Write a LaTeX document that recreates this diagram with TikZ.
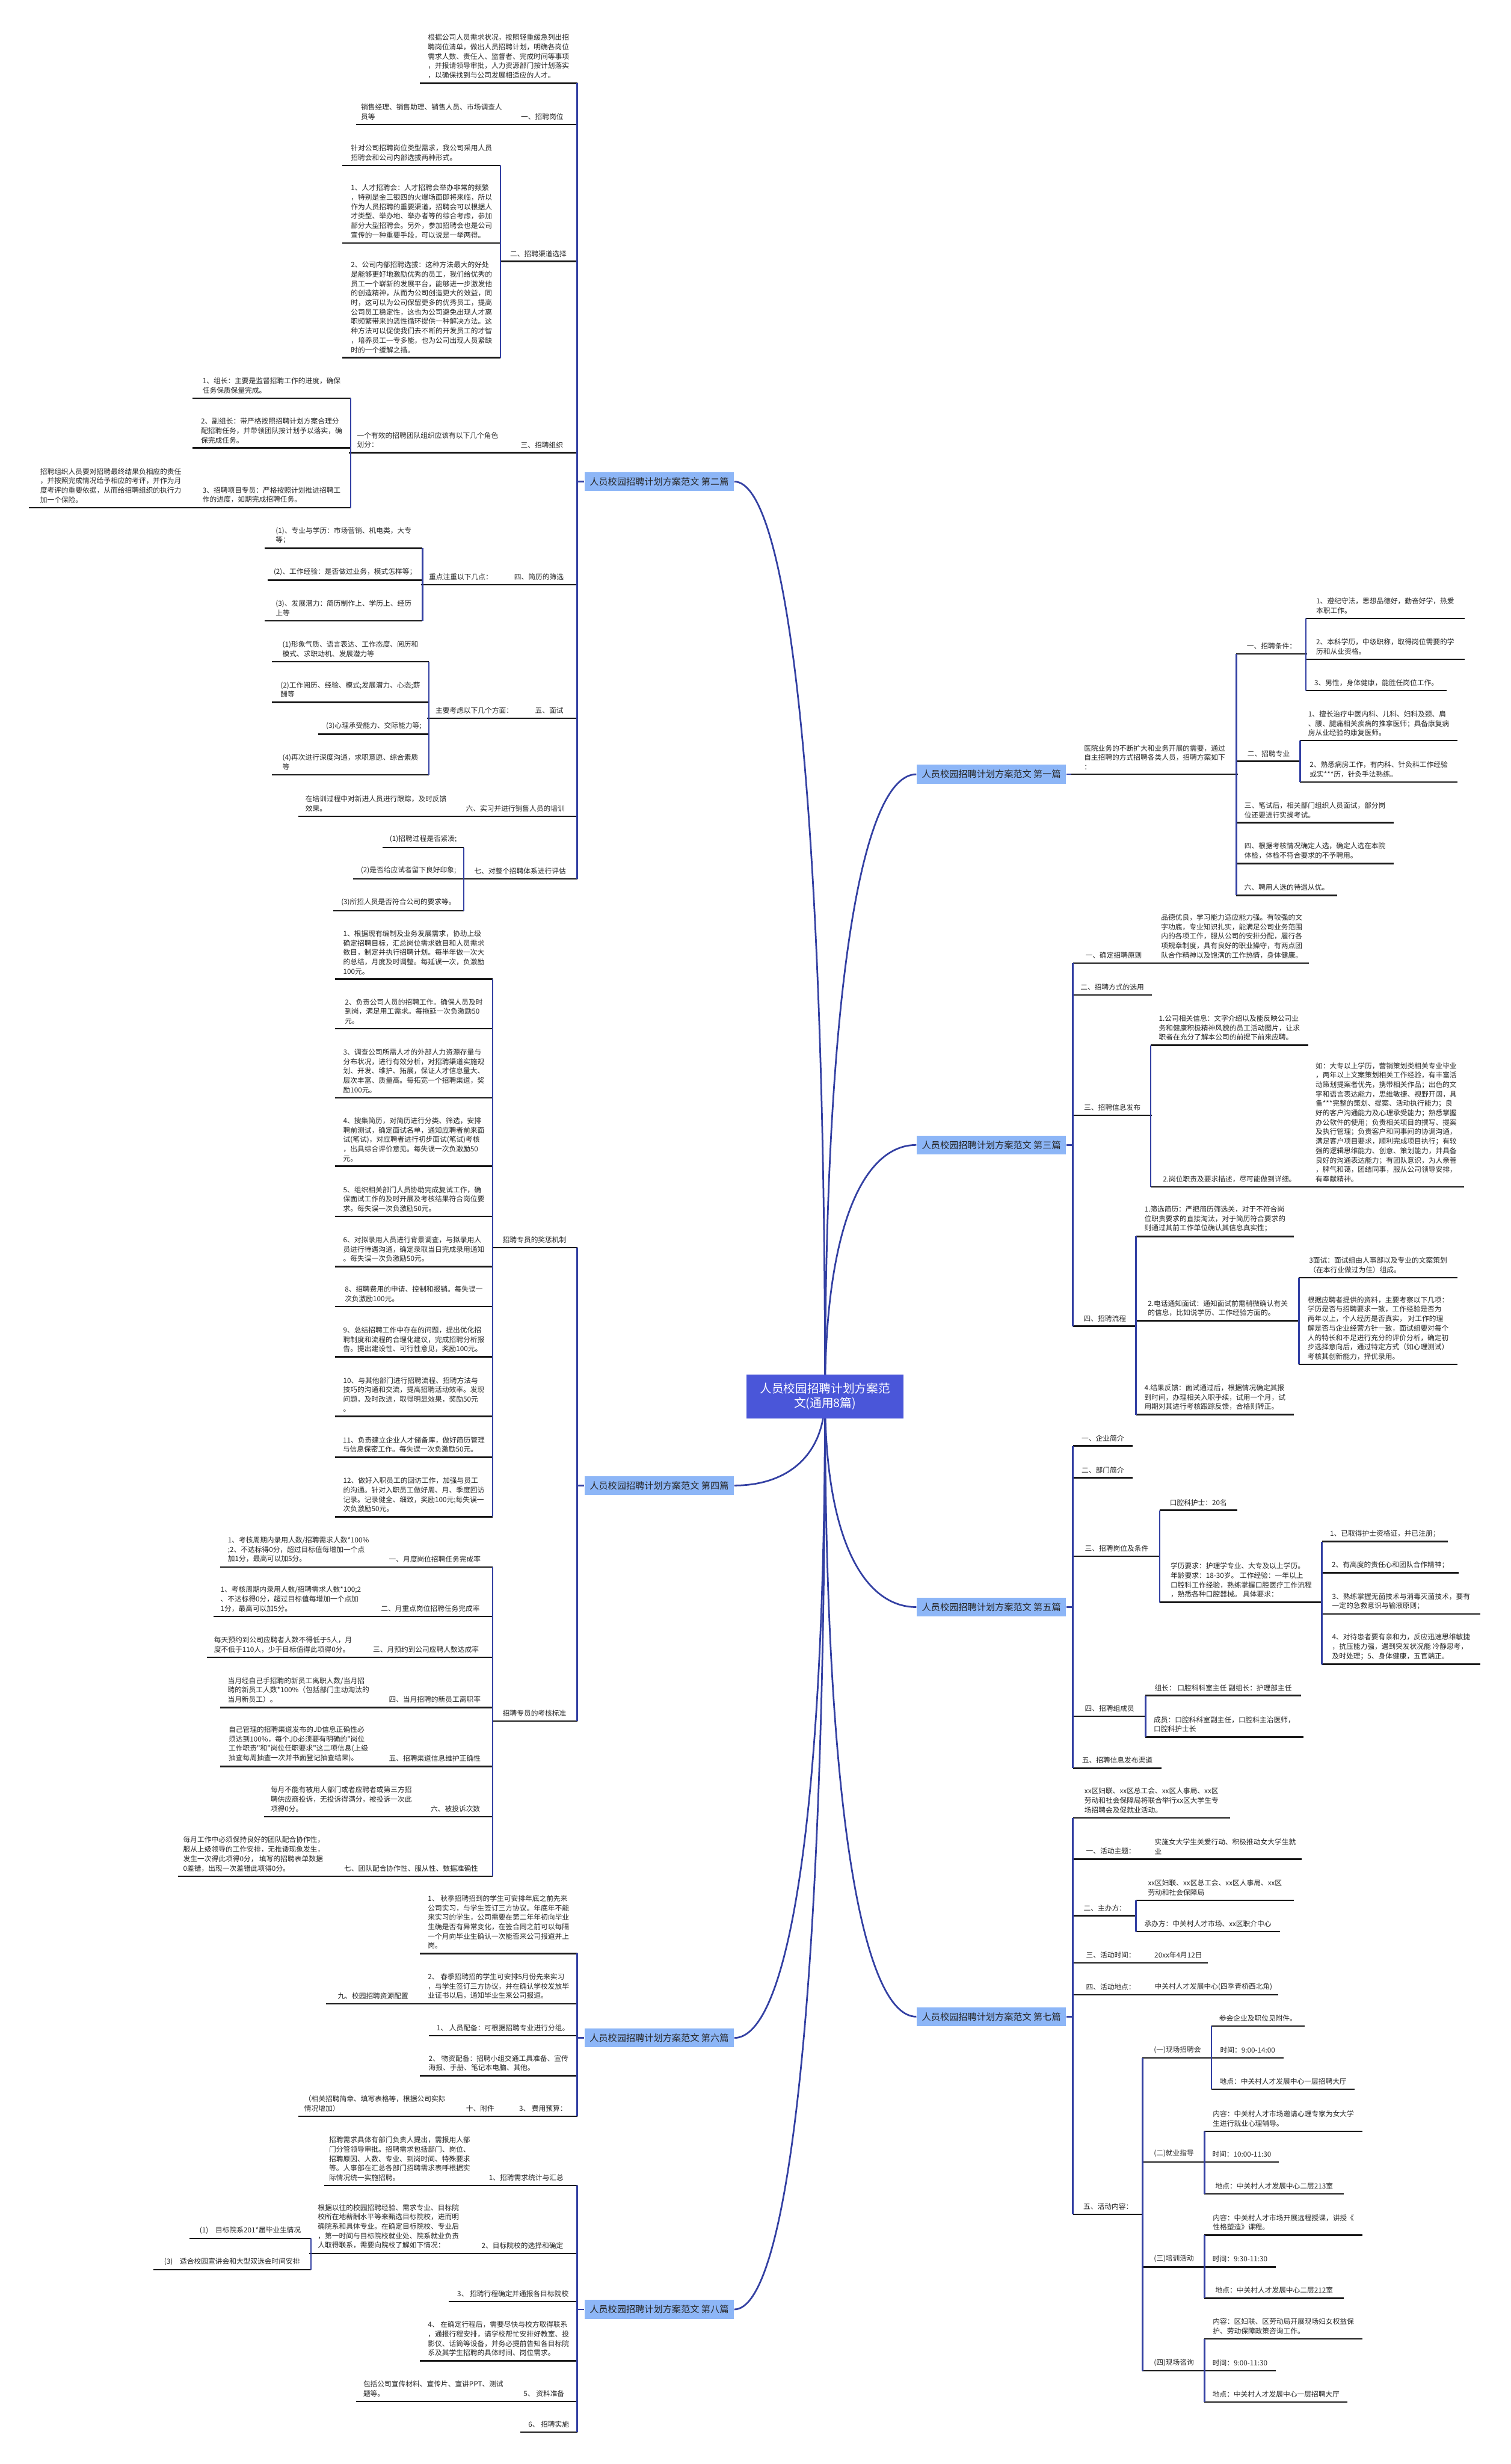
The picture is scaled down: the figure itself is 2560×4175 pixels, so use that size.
\documentclass[tikz,border=0pt]{standalone}
\usepackage{fontspec}
\newfontfamily\cjk{Noto Sans CJK SC}
\usetikzlibrary{backgrounds}
\definecolor{navy}{HTML}{3340A3}
\definecolor{brfill}{HTML}{8DB6F7}
\definecolor{rootfill}{HTML}{4A56D9}
\tikzset{
  uln/.style={draw=black!90,line width=0.7pt},
  bar/.style={draw=navy,line width=0.7pt},
  txt/.style={font=\cjk\fontsize{3.4pt}{4.55pt}\selectfont,align=left,text=black!85,inner xsep=0.06cm,inner ysep=0.07cm,
    append after command={(\tikzlastnode.south west) edge[uln] (\tikzlastnode.south east)}},
  lt/.style={txt,anchor=south east,minimum width=#1},
  rt/.style={txt,anchor=south west,minimum width=#1},
  br/.style={fill=brfill,font=\cjk\fontsize{4.4pt}{5pt}\selectfont,text=black!85,minimum width=2.53cm,minimum height=0.32cm,inner sep=0pt},
  rootbox/.style={fill=rootfill,font=\cjk\fontsize{5.7pt}{7pt}\selectfont,text=white,align=center,minimum width=2.65cm,minimum height=0.74cm,inner sep=0pt}
}
\begin{document}
\begin{tikzpicture}[x=0.01cm,y=-0.01cm]
  \useasboundingbox (0,0) rectangle (2560,4175);
  \node[rootbox](root) at (1398,2366){人员校园招聘计划方案范\\文(通用8篇)};
  \node[br](b2) at (1117,816){人员校园招聘计划方案范文 第二篇};
  \node[br](b4) at (1117,2517){人员校园招聘计划方案范文 第四篇};
  \node[br](b6) at (1117,3453){人员校园招聘计划方案范文 第六篇};
  \node[br](b8) at (1117,3913){人员校园招聘计划方案范文 第八篇};
  \node[br](b1) at (1680,1312){人员校园招聘计划方案范文 第一篇};
  \node[br](b3) at (1680,1940){人员校园招聘计划方案范文 第三篇};
  \node[br](b5) at (1680,2723){人员校园招聘计划方案范文 第五篇};
  \node[br](b7) at (1680,3417){人员校园招聘计划方案范文 第七篇};
  % 第二篇
  \node[lt=2.65cm](p1) at (978,141){根据公司人员需求状况，按照轻重缓急列出招\\聘岗位清单，做出人员招聘计划，明确各岗位\\需求人数、责任人、监督者、完成时间等事项\\，并报请领导审批，人力资源部门按计划落实\\，以确保找到与公司发展相适应的人才。};
  \node[lt=1.17cm](p2) at (978,211){一、招聘岗位};
  \node[lt=2.55cm](p2a) at (p2.south west){销售经理、销售助理、销售人员、市场调查人\\员等};
  \node[lt=1.3cm](p3) at (978,443){二、招聘渠道选择};
  \node[lt=2.66cm](p3a) at (848,280){针对公司招聘岗位类型需求，我公司采用人员\\招聘会和公司内部选拔两种形式。};
  \node[lt=2.66cm](p3b) at (848,412){1、人才招聘会：人才招聘会举办非常的频繁\\，特别是金三银四的火爆场面即将来临，所以\\作为人员招聘的重要渠道，招聘会可以根据人\\才类型、举办地、举办者等的综合考虑，参加\\部分大型招聘会。另外，参加招聘会也是公司\\宣传的一种重要手段，可以说是一举两得。};
  \node[lt=2.66cm](p3c) at (848,606){2、公司内部招聘选拔：这种方法最大的好处\\是能够更好地激励优秀的员工，我们给优秀的\\员工一个崭新的发展平台，能够进一步激发他\\的创造精神，从而为公司创造更大的效益，同\\时，这可以为公司保留更多的优秀员工，提高\\公司员工稳定性，这也为公司避免出现人才离\\职频繁带来的恶性循环提供一种解决方法。这\\种方法可以促使我们去不断的开发员工的才智\\，培养员工一专多能，也为公司出现人员紧缺\\时的一个缓解之措。};
  \node[lt=1.18cm](p4) at (978,767){三、招聘组织};
  \node[lt=2.66cm](p4a) at (p4.south west){一个有效的招聘团队组织应该有以下几个角色\\划分：};
  \node[lt=2.66cm](p4a1) at (594,675){1、组长：主要是监督招聘工作的进度，确保\\任务保质保量完成。};
  \node[lt=2.66cm](p4a2) at (594,759){2、副组长：带严格按照招聘计划方案合理分\\配招聘任务，并带领团队按计划予以落实，确\\保完成任务。};
  \node[lt=2.66cm](p4a3) at (594,860){3、招聘项目专员：严格按照计划推进招聘工\\作的进度，如期完成招聘任务。};
  \node[lt=2.76cm](p4a3a) at (p4a3.south west){招聘组织人员要对招聘最终结果负相应的责任\\，并按照完成情况给予相应的考评，并作为月\\度考评的重要依据，从而给招聘组织的执行力\\加一个保险。};
  \node[lt=1.28cm](p5) at (978,991){四、简历的筛选};
  \node[lt=1.34cm](p5a) at (p5.south west){重点注重以下几点：};
  \node[lt=2.66cm](p5a1) at (716,929){(1)、专业与学历：市场营销、机电类，大专\\等；};
  \node[lt=2.61cm](p5a2) at (716,983){(2)、工作经验：是否做过业务，模式怎样等；};
  \node[lt=2.66cm](p5a3) at (716,1052){(3)、发展潜力：简历制作上、学历上、经历\\上等};
  \node[lt=0.93cm](p6) at (978,1217){五、面试};
  \node[lt=1.58cm](p6a) at (p6.south west){主要考虑以下几个方面：};
  \node[lt=2.65cm](p6a1) at (727,1121){(1)形象气质、语言表达、工作态度、阅历和\\模式、求职动机、发展潜力等};
  \node[lt=2.65cm](p6a2) at (727,1190){(2)工作阅历、经验、模式;发展潜力、心态;薪\\酬等};
  \node[lt=1.86cm](p6a3) at (727,1244){(3)心理承受能力、交际能力等;};
  \node[lt=2.65cm](p6a4) at (727,1313){(4)再次进行深度沟通，求职意愿、综合素质\\等};
  \node[lt=2.08cm](p7) at (978,1383){六、实习并进行销售人员的培训};
  \node[lt=2.61cm](p7a) at (p7.south west){在培训过程中对新进人员进行跟踪，及时反馈\\效果。};
  \node[lt=1.92cm](p8) at (978,1489){七、对整个招聘体系进行评估};
  \node[lt=1.36cm](p8a) at (786,1436){(1)招聘过程是否紧凑;};
  \node[lt=1.86cm](p8b) at (786,1489){(2)是否给应试者留下良好印象;};
  \node[lt=2.2cm](p8c) at (786,1543){(3)所招人员是否符合公司的要求等。};
  % 第四篇
  \node[lt=1.43cm](q1) at (978,2114){招聘专员的奖惩机制};
  \node[lt=2.66cm](q1a) at (835,1659){1、根据现有编制及业务发展需求，协助上级\\确定招聘目标，汇总岗位需求数目和人员需求\\数目，制定并执行招聘计划。每半年做一次大\\的总结，月度及时调整。每延误一次，负激励\\100元。};
  \node[lt=2.66cm](q1b) at (835,1743){2、负责公司人员的招聘工作。确保人员及时\\到岗，满足用工需求。每拖延一次负激励50\\元。};
  \node[lt=2.66cm](q1c) at (835,1860){3、调查公司所需人才的外部人力资源存量与\\分布状况，进行有效分析，对招聘渠道实施规\\划、开发、维护、拓展，保证人才信息量大、\\层次丰富、质量高。每拓宽一个招聘渠道，奖\\励100元。};
  \node[lt=2.66cm](q1d) at (835,1976){4、搜集简历，对简历进行分类、筛选，安排\\聘前测试，确定面试名单，通知应聘者前来面\\试(笔试)，对应聘者进行初步面试(笔试)考核\\，出具综合评价意见。每失误一次负激励50\\元。};
  \node[lt=2.66cm](q1e) at (835,2061){5、组织相关部门人员协助完成复试工作，确\\保面试工作的及时开展及考核结果符合岗位要\\求。每失误一次负激励50元。};
  \node[lt=2.66cm](q1f) at (835,2146){6、对拟录用人员进行背景调查，与拟录用人\\员进行待遇沟通，确定录取当日完成录用通知\\。每失误一次负激励50元。};
  \node[lt=2.66cm](q1g) at (835,2214){8、招聘费用的申请、控制和报销。每失误一\\次负激励100元。};
  \node[lt=2.66cm](q1h) at (835,2299){9、总结招聘工作中存在的问题，提出优化招\\聘制度和流程的合理化建议，完成招聘分析报\\告。提出建设性、可行性意见，奖励100元。};
  \node[lt=2.66cm](q1i) at (835,2400){10、与其他部门进行招聘流程、招聘方法与\\技巧的沟通和交流，提高招聘活动效率。发现\\问题，及时改进，取得明显效果，奖励50元\\。};
  \node[lt=2.66cm](q1j) at (835,2469){11、负责建立企业人才储备库，做好简历管理\\与信息保密工作。每失误一次负激励50元。};
  \node[lt=2.66cm](q1k) at (835,2570){12、做好入职员工的回访工作，加强与员工\\的沟通。针对入职员工做好周、月、季度回访\\记录。记录健全、细致，奖励100元;每失误一\\次负激励50元。};
  \node[lt=1.43cm](q2) at (978,2916){招聘专员的考核标准};
  \node[lt=1.95cm](q2a) at (835,2655){一、月度岗位招聘任务完成率};
  \node[lt=2.64cm](q2a1) at (q2a.south west){1、考核周期内录用人数/招聘需求人数*100\%\\;2、不达标得0分，超过目标值每增加一个点\\加1分，最高可以加5分。};
  \node[lt=2.1cm](q2b) at (835,2739){二、月重点岗位招聘任务完成率};
  \node[lt=2.6cm](q2b1) at (q2b.south west){1、考核周期内录用人数/招聘需求人数*100;2\\、不达标得0分，超过目标值每增加一个点加\\1分，最高可以加5分。};
  \node[lt=2.25cm](q2c) at (835,2808){三、月预约到公司应聘人数达成率};
  \node[lt=2.56cm](q2c1) at (q2c.south west){每天预约到公司应聘者人数不得低于5人，月\\度不低于110人，少于目标值得此项得0分。};
  \node[lt=1.95cm](q2d) at (835,2893){四、当月招聘的新员工离职率};
  \node[lt=2.64cm](q2d1) at (q2d.south west){当月经自己手招聘的新员工离职人数/当月招\\聘的新员工人数*100\%（包括部门主动淘汰的\\当月新员工）。};
  \node[lt=1.95cm](q2e) at (835,2993){五、招聘渠道信息维护正确性};
  \node[lt=2.64cm](q2e1) at (q2e.south west){自己管理的招聘渠道发布的JD信息正确性必\\须达到100\%，每个JD必须要有明确的"岗位\\工作职责"和"岗位任职要求"这二项信息(上级\\抽查每周抽查一次并书面登记抽查结果)。};
  \node[lt=1.25cm](q2f) at (835,3078){六、被投诉次数};
  \node[lt=2.59cm](q2f1) at (q2f.south west){每月不能有被用人部门或者应聘者或第三方招\\聘供应商投诉，无投诉得满分，被投诉一次此\\项得0分。};
  \node[lt=2.75cm](q2g) at (835,3179){七、团队配合协作性、服从性、数据准确性};
  \node[lt=2.55cm](q2g1) at (q2g.south west){每月工作中必须保持良好的团队配合协作性，\\服从上级领导的工作安排，无推诿现象发生，\\发生一次得此项得0分， 填写的招聘表单数据\\0差错，出现一次差错此项得0分。};
  % 第六篇
  \node[lt=2.65cm](s1) at (978,3310){1、 秋季招聘招到的学生可安排年底之前先来\\公司实习，与学生签订三方协议。年底年不能\\来实习的学生，公司需要在第二年年初向毕业\\生确是否有异常变化，在签合同之前可以每隔\\一个月向毕业生确认一次能否来公司报道并上\\岗。};
  \node[lt=2.65cm](s2) at (978,3395){2、 春季招聘招的学生可安排5月份先来实习\\，与学生签订三方协议，并在确认学校发放毕\\业证书以后，通知毕业生来公司报道。};
  \node[lt=1.57cm](s2a) at (s2.south west){九、校园招聘资源配置};
  \node[lt=2.5cm](s3) at (978,3449){1、 人员配备：可根据招聘专业进行分组。};
  \node[lt=2.65cm](s4) at (978,3517){2、 物资配备：招聘小组交通工具准备、宣传\\海报、手册、笔记本电脑、其他。};
  \node[lt=1.14cm](s5) at (978,3586){3、 费用预算：};
  \node[lt=0.96cm](s5a) at (s5.south west){十、附件};
  \node[lt=2.58cm](s5b) at (s5a.south west){（相关招聘简章、填写表格等，根据公司实际\\情况增加）};
  % 第八篇
  \node[lt=1.71cm](e1) at (978,3703){1、招聘需求统计与汇总};
  \node[lt=2.55cm](e1a) at (e1.south west){招聘需求具体有部门负责人提出，需报用人部\\门分管领导审批。招聘需求包括部门、岗位、\\招聘原因、人数、专业、到岗时间、特殊要求\\等。人事部在汇总各部门招聘需求表呼根据实\\际情况统一实施招聘。};
  \node[lt=1.84cm](e2) at (978,3818){2、目标院校的选择和确定};
  \node[lt=2.67cm](e2a) at (e2.south west){根据以往的校园招聘经验、需求专业、目标院\\校所在地薪酬水平等来甄选目标院校，进而明\\确院系和具体专业。在确定目标院校、专业后\\，第一时间与目标院校就业处、院系就业负责\\人取得联系，需要向院校了解如下情况：};
  \node[lt=2.04cm](e2a1) at (527,3793){(1)　目标院系201*届毕业生情况};
  \node[lt=2.66cm](e2a2) at (527,3846){(3)　适合校园宣讲会和大型双选会时间安排};
  \node[lt=2.16cm](e3) at (978,3900){3、 招聘行程确定并通报各目标院校};
  \node[lt=2.65cm](e4) at (978,4000){4、 在确定行程后，需要尽快与校方取得联系\\，通报行程安排，请学校帮忙安排好教室、投\\影仪、话筒等设备，并务必提前告知各目标院\\系及其学生招聘的具体时间、岗位需求。};
  \node[lt=1.11cm](e5) at (978,4069){5、 资料准备};
  \node[lt=2.61cm](e5a) at (e5.south west){包括公司宣传材料、宣传片、宣讲PPT、测试\\题等。};
  \node[lt=0.95cm](e6) at (978,4121){6、 招聘实施};
  % 第一篇
  \node[rt=2.81cm](r0) at ([xshift=0.08cm]b1.east){医院业务的不断扩大和业务开展的需要，通过\\自主招聘的方式招聘各类人员，招聘方案如下\\：};
  \node[rt=1.18cm](r1) at (2095,1108){一、招聘条件：};
  \node[rt=2.67cm](r1a) at (2213,1048){1、遵纪守法，思想品德好，勤奋好学，热爱\\本职工作。};
  \node[rt=2.67cm](r1b) at (2213,1117){2、本科学历，中级职称，取得岗位需要的学\\历和从业资格。};
  \node[rt=2.37cm](r1c) at (2213,1170){3、男性，身体健康，能胜任岗位工作。};
  \node[rt=1.08cm](r2) at (2095,1290){二、招聘专业};
  \node[rt=2.65cm](r2a) at (2203,1255){1、擅长治疗中医内科、儿科、妇科及颈、肩\\、腰、腿痛相关疾病的推拿医师；具备康复病\\房从业经验的康复医师。};
  \node[rt=2.65cm](r2b) at (2203,1325){2、熟悉病房工作，有内科、针灸科工作经验\\或实***历，针灸手法熟练。};
  \node[rt=2.65cm](r3) at (2095,1394){三、笔试后，相关部门组织人员面试，部分岗\\位还要进行实操考试。};
  \node[rt=2.65cm](r4) at (2095,1463){四、根据考核情况确定人选，确定人选在本院\\体检，体检不符合要求的不予聘用。};
  \node[rt=1.69cm](r5) at (2095,1517){六、聘用人选的待遇从优。};
  % 第三篇
  \node[rt=1.37cm](t1) at (1818,1632){一、确定招聘原则};
  \node[rt=2.6cm](t1a) at (t1.south east){品德优良，学习能力适应能力强。有较强的文\\字功底，专业知识扎实，能满足公司业务范围\\内的各项工作，服从公司的安排分配，履行各\\项规章制度，具有良好的职业操守，有两点团\\队合作精神以及饱满的工作热情，身体健康。};
  \node[rt=1.32cm](t2) at (1818,1686){二、招聘方式的选用};
  \node[rt=1.32cm](t3) at (1818,1890){三、招聘信息发布};
  \node[rt=2.65cm](t3a) at (1950,1771){1.公司相关信息：文字介绍以及能反映公司业\\务和健康积极精神风貌的员工活动图片，让求\\职者在充分了解本公司的前提下前来应聘。};
  \node[rt=2.65cm](t3b) at (1950,2011){2.岗位职责及要求描述，尽可能做到详细。};
  \node[rt=2.63cm](t3b1) at (t3b.south east){如：大专以上学历，营销策划类相关专业毕业\\，两年以上文案策划相关工作经验，有丰富活\\动策划提案者优先，携带相关作品；出色的文\\字和语言表达能力，思维敏捷、视野开阔，具\\备***完整的策划、提案、活动执行能力；良\\好的客户沟通能力及心理承受能力；熟悉掌握\\办公软件的使用；负责相关项目的撰写、提案\\及执行管理；负责客户和同事间的协调沟通，\\满足客户项目要求，顺利完成项目执行；有较\\强的逻辑思维能力、创意、策划能力，并具备\\良好的沟通表达能力；有团队意识，为人亲善\\，脾气和蔼，团结同事，服从公司领导安排，\\有奉献精神。};
  \node[rt=1.07cm](t4) at (1818,2247){四、招聘流程};
  \node[rt=2.66cm](t4a) at (1925,2095){1.筛选简历：严把简历筛选关，对于不符合岗\\位职责要求的直接淘汰，对于简历符合要求的\\则通过其前工作单位确认其信息真实性；};
  \node[rt=2.76cm](t4b) at (1925,2238){2.电话通知面试：通知面试前需稍微确认有关\\的信息，比如说学历、工作经验方面的。};
  \node[rt=2.67cm](t4b1) at (2201,2165){3面试：面试组由人事部以及专业的文案策划\\（在本行业做过为佳）组成。};
  \node[rt=2.67cm](t4b2) at (2201,2312){根据应聘者提供的资料，主要考察以下几项：\\学历是否与招聘要求一致，工作经验是否为\\两年以上，个人经历是否真实， 对工作的理\\解是否与企业经营方针一致，面试组要对每个\\人的特长和不足进行充分的评价分析，确定初\\步选择意向后，通过特定方式（如心理测试）\\考核其创新能力，择优录用。};
  \node[rt=2.66cm](t4c) at (1925,2397){4.结果反馈：面试通过后，根据情况确定其报\\到时间，办理相关入职手续，试用一个月，试\\用期对其进行考核跟踪反馈，合格则转正。};
  % 第五篇
  \node[rt=1cm](f1) at (1818,2450){一、企业简介};
  \node[rt=1cm](f2) at (1818,2504){二、部门简介};
  \node[rt=1.47cm](f3) at (1818,2637){三、招聘岗位及条件};
  \node[rt=1.3cm](f3a) at (1965,2559){口腔科护士：20名};
  \node[rt=2.75cm](f3b) at (1965,2715){学历要求：护理学专业、大专及以上学历。\\年龄要求：18-30岁。 工作经验：一年以上\\口腔科工作经验，熟练掌握口腔医疗工作流程\\，熟悉各种口腔器械。 具体要求：};
  \node[rt=2.12cm](f3b1) at (2240,2612){1、已取得护士资格证，并已注册；};
  \node[rt=2.3cm](f3b2) at (2240,2665){2、有高度的责任心和团队合作精神；};
  \node[rt=2.67cm](f3b3) at (2240,2735){3、熟练掌握无菌技术与消毒灭菌技术，要有\\一定的急救意识与输液原则；};
  \node[rt=2.67cm](f3b4) at (2240,2820){4、对待患者要有亲和力，反应迅速思维敏捷\\，抗压能力强，遇到突发状况能 冷静思考，\\及时处理；5、身体健康，五官端正。};
  \node[rt=1.23cm](f4) at (1818,2908){四、招聘组成员};
  \node[rt=2.62cm](f4a) at (1941,2873){组长： 口腔科科室主任 副组长：护理部主任};
  \node[rt=2.66cm](f4b) at (1941,2943){成员：口腔科科室副主任，口腔科主治医师，\\口腔科护士长};
  \node[rt=1.49cm](f5) at (1818,2996){五、招聘信息发布渠道};
  % 第七篇
  \node[rt=2.65cm](g0) at (1818,3080){xx区妇联、xx区总工会、xx区人事局、xx区\\劳动和社会保障局将联合举行xx区大学生专\\场招聘会及促就业活动。};
  \node[rt=1.27cm](g1) at (1818,3150){一、活动主题：};
  \node[rt=2.58cm](g1a) at (g1.south east){实施女大学生关爱行动、积极推动女大学生就\\业};
  \node[rt=1.07cm](g2) at (1818,3246){二、主办方：};
  \node[rt=2.66cm](g2a) at (1925,3220){xx区妇联、xx区总工会、xx区人事局、xx区\\劳动和社会保障局};
  \node[rt=2.42cm](g2b) at (1925,3273){承办方：中关村人才市场、xx区职介中心};
  \node[rt=1.27cm](g3) at (1818,3326){三、活动时间：};
  \node[rt=0.99cm](g3a) at (g3.south east){20xx年4月12日};
  \node[rt=1.27cm](g4) at (1818,3380){四、活动地点：};
  \node[rt=2.18cm](g4a) at (g4.south east){中关村人才发展中心(四季青桥西北角)};
  \node[rt=1.18cm](g5) at (1818,3752){五、活动内容：};
  \node[rt=1.17cm](g5a) at (1936,3487){(一)现场招聘会};
  \node[rt=1.56cm](g5a1) at (2053,3433){参会企业及职位见附件。};
  \node[rt=1.21cm](g5a2) at (2053,3487){时间：9:00-14:00};
  \node[rt=2.41cm](g5a3) at (2053,3540){地点：中关村人才发展中心一层招聘大厅};
  \node[rt=1.05cm](g5b) at (1936,3663){(二)就业指导};
  \node[rt=2.66cm](g5b1) at (2041,3611){内容：中关村人才市场邀请心理专家为女大学\\生进行就业心理辅导。};
  \node[rt=1.25cm](g5b2) at (2041,3663){时间：10:00-11:30};
  \node[rt=2.35cm](g5b3) at (2041,3717){地点：中关村人才发展中心二层213室};
  \node[rt=1.05cm](g5c) at (1936,3841){(三)培训活动};
  \node[rt=2.66cm](g5c1) at (2041,3787){内容：中关村人才市场开展远程授课，讲授《\\性格塑造》课程。};
  \node[rt=1.19cm](g5c2) at (2041,3841){时间：9:30-11:30};
  \node[rt=2.35cm](g5c3) at (2041,3894){地点：中关村人才发展中心二层212室};
  \node[rt=1.05cm](g5d) at (1936,4017){(四)现场咨询};
  \node[rt=2.66cm](g5d1) at (2041,3963){内容：区妇联、区劳动局开展现场妇女权益保\\护、劳动保障政策咨询工作。};
  \node[rt=1.19cm](g5d2) at (2041,4017){时间：9:00-11:30};
  \node[rt=2.41cm](g5d3) at (2041,4070){地点：中关村人才发展中心一层招聘大厅};
  % bars
  \foreach \a/\b in {p1/p8,p3a/p3c,p4a1/p4a3,p5a1/p5a3,p6a1/p6a4,p8a/p8c,q1/q2,q1a/q1k,q2a/q2g,s1/s5,e1/e6,e2a1/e2a2}{\draw[bar](\a.south east)--(\b.south east);}
  \foreach \a/\b in {r1/r5,r1a/r1c,r2a/r2b,t1/t4,t3a/t3b,t4a/t4c,t4b1/t4b2,f1/f5,f3a/f3b,f3b1/f3b4,f4a/f4b,g0/g5,g2a/g2b,g5a/g5d,g5a1/g5a3,g5b1/g5b3,g5c1/g5c3,g5d1/g5d3}{\draw[bar](\a.south west)--(\b.south west);}
  \foreach \x/\y in {b2/p1,b4/q1,b6/s1,b8/e1}{\draw[bar](\x.west)--(\x.west -| \y.south east);}
  \foreach \x/\y in {b3/t1,b5/f1,b7/g0}{\draw[bar](\x.east)--(\x.east -| \y.south west);}
  \draw[bar](b1.east)--(r0.south west);
  \begin{scope}[on background layer]
    \fill[white](0,0) rectangle (2560,4175);
    \draw[bar,line width=0.8pt](root.center) .. controls +(0,-1066) and +(86,0) .. (b2.east);
    \draw[bar,line width=0.8pt](root.center) .. controls +(0,104) and +(86,0) .. (b4.east);
    \draw[bar,line width=0.8pt](root.center) .. controls +(0,750) and +(86,0) .. (b6.east);
    \draw[bar,line width=0.8pt](root.center) .. controls +(0,1067) and +(86,0) .. (b8.east);
    \draw[bar,line width=0.8pt](root.center) .. controls +(0,-727) and +(-87,0) .. (b1.west);
    \draw[bar,line width=0.8pt](root.center) .. controls +(0,-294) and +(-87,0) .. (b3.west);
    \draw[bar,line width=0.8pt](root.center) .. controls +(0,246) and +(-87,0) .. (b5.west);
    \draw[bar,line width=0.8pt](root.center) .. controls +(0,725) and +(-87,0) .. (b7.west);
  \end{scope}
\end{tikzpicture}
\end{document}
